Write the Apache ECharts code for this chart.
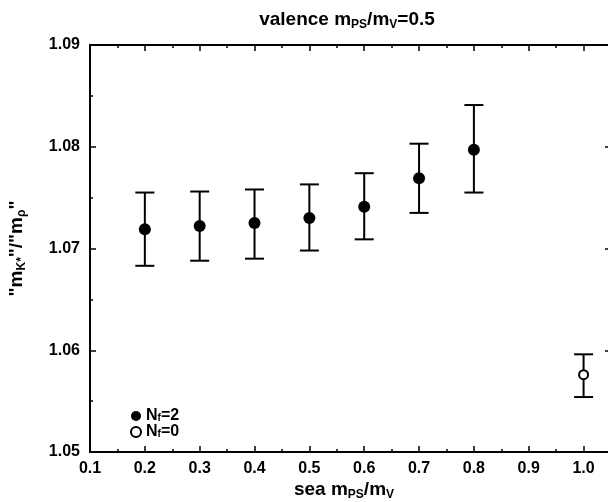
<!DOCTYPE html>
<html>
<head>
<meta charset="utf-8">
<script src="https://cdn.jsdelivr.net/npm/echarts@6/dist/echarts.min.js"></script>
<style>html,body{margin:0;padding:0;background:#fff}#c{width:608px;height:502px}</style>
</head>
<body>
<div id="c"></div>
<script>
// Nf=2 (dynamical) data
const seaX = [0.2, 0.3, 0.4, 0.5, 0.6, 0.7, 0.8];
const nf2Val = [1.0719, 1.0722, 1.0725, 1.0730, 1.0741, 1.0769, 1.0797];
const nf2Hi  = [1.0755, 1.0756, 1.0758, 1.0763, 1.0774, 1.0803, 1.0841];
const nf2Lo  = [1.0683, 1.0688, 1.0690, 1.0698, 1.0709, 1.0735, 1.0755];
// Nf=0 (quenched) data
const qX = [1.0];
const nf0Val = [1.0576];
const nf0Hi  = [1.0596];
const nf0Lo  = [1.0554];
// axis ticks
const xTicks = [0.1, 0.2, 0.3, 0.4, 0.5, 0.6, 0.7, 0.8, 0.9, 1.0];
const yTicks = [1.05, 1.06, 1.07, 1.08, 1.09];

const FONT = 'Liberation Sans';
const chart = echarts.init(document.getElementById('c'), null, {renderer: 'canvas'});

function errData(xs, lo, hi) { return xs.map((x, i) => [x, lo[i], hi[i]]); }
function errRender(params, api) {
  const x = api.value(0);
  const p1 = api.coord([x, api.value(1)]);
  const p2 = api.coord([x, api.value(2)]);
  const w = 9.5;
  const st = {stroke: '#000', lineWidth: 2};
  return {type: 'group', children: [
    {type: 'line', shape: {x1: p1[0], y1: p1[1], x2: p2[0], y2: p2[1]}, style: st},
    {type: 'line', shape: {x1: p1[0]-w, y1: p1[1], x2: p1[0]+w, y2: p1[1]}, style: st},
    {type: 'line', shape: {x1: p2[0]-w, y1: p2[1], x2: p2[0]+w, y2: p2[1]}, style: st}
  ]};
}

const axisCommon = {
  axisLine: {show: true, onZero: false, lineStyle: {color: '#000', width: 2}},
  axisTick: {show: true, inside: true, length: 6, lineStyle: {color: '#000', width: 1.5}},
  minorTick: {show: true, splitNumber: 2, length: 3, lineStyle: {color: '#000', width: 1.5}},
  splitLine: {show: false}
};

const labelStyle = {color: '#000', fontFamily: FONT, fontWeight: 'bold', fontSize: 16};
const bigRich = {
  n: {fontFamily: FONT, fontSize: 19, fontWeight: 'bold', color: '#000'},
  s: {fontFamily: FONT, fontSize: 12, fontWeight: 'bold', color: '#000', padding: [10, 0, 0, 0]}
};

const option = {
  animation: false,
  backgroundColor: '#fff',
  title: [{
    text: '{n|valence m}{s|PS}{n|/m}{s|V}{n|=0.5}',
    left: 342, top: 4, textAlign: 'center',
    textStyle: {rich: bigRich}
  }, {
    text: '{n|sea m}{s|PS}{n|/m}{s|V}',
    left: 339, top: 474, textAlign: 'center',
    textStyle: {rich: bigRich}
  }],
  grid: {left: 90, top: 45, bottom: 50, right: -3, containLabel: false, outerBoundsMode: 'none'},
  legend: {
    orient: 'vertical', left: 125, top: 403, itemGap: 0,
    itemWidth: 10, itemHeight: 10,
    data: ['Nf=2', 'Nf=0'],
    formatter: function (name) { return '{n|N}{s|f}{n|=' + name.slice(3) + '}'; },
    textStyle: {rich: {
      n: {fontFamily: FONT, fontSize: 16, fontWeight: 'bold', color: '#000', lineHeight: 15},
      s: {fontFamily: FONT, fontSize: 10, fontWeight: 'bold', color: '#000', lineHeight: 10, padding: [5, 0, 0, 0]}
    }}
  },
  xAxis: [Object.assign({
    type: 'value', min: xTicks[0], max: 1.05, interval: 0.1, position: 'bottom',
    axisLabel: Object.assign({margin: 9, showMaxLabel: false,
      formatter: v => (Math.abs(v - 1.05) < 1e-9 ? '' : v.toFixed(1))}, labelStyle)
  }, axisCommon), Object.assign({
    type: 'value', min: xTicks[0], max: 1.05, interval: 0.1, position: 'top',
    axisLabel: {show: false}
  }, axisCommon)],
  yAxis: [Object.assign({
    type: 'value', min: yTicks[0], max: yTicks[yTicks.length - 1], interval: 0.01, position: 'left',
    name: '{n|"m}{s|K*}{n|"/"m}{s|ρ}{n|"}', nameLocation: 'middle', nameGap: 62, nameRotate: 90,
    nameTextStyle: {rich: bigRich},
    axisLabel: Object.assign({margin: 10, formatter: v => v.toFixed(2)}, labelStyle)
  }, axisCommon), Object.assign({
    type: 'value', min: yTicks[0], max: yTicks[yTicks.length - 1], interval: 0.01, position: 'right',
    axisLabel: {show: false}
  }, axisCommon)],
  series: [{
    type: 'custom', xAxisIndex: 0, yAxisIndex: 0, silent: true,
    renderItem: errRender, data: errData(seaX, nf2Lo, nf2Hi), z: 2
  }, {
    type: 'custom', xAxisIndex: 0, yAxisIndex: 0, silent: true,
    renderItem: errRender, data: errData(qX, nf0Lo, nf0Hi), z: 2
  }, {
    name: 'Nf=2', type: 'scatter', symbol: 'circle', symbolSize: 12,
    itemStyle: {color: '#000', opacity: 1},
    data: seaX.map((x, i) => [x, nf2Val[i]]), z: 3
  }, {
    name: 'Nf=0', type: 'scatter', symbol: 'circle', symbolSize: 9,
    itemStyle: {color: '#fff', borderColor: '#000', borderWidth: 2, opacity: 1},
    data: qX.map((x, i) => [x, nf0Val[i]]), z: 3
  }]
};
chart.setOption(option);
</script>
</body>
</html>
